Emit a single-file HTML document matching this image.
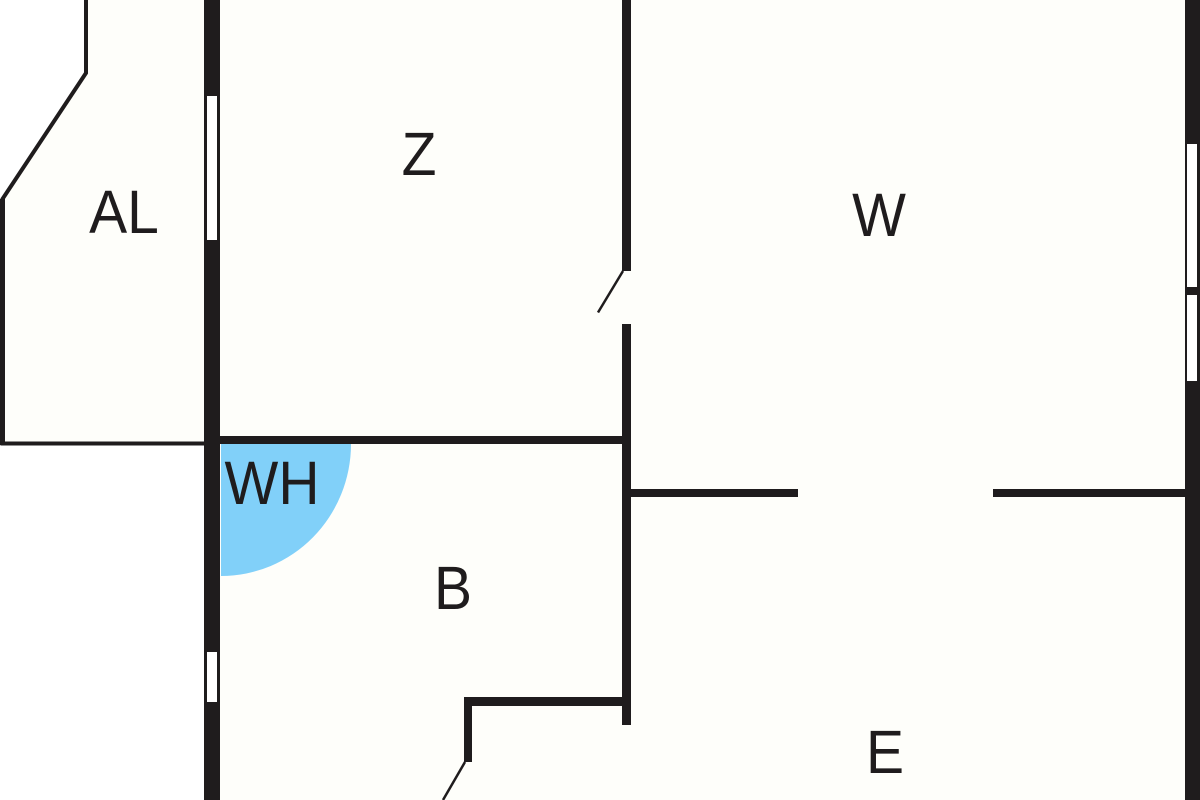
<!DOCTYPE html>
<html>
<head>
<meta charset="utf-8">
<style>
html,body{margin:0;padding:0;background:#fff;width:1200px;height:800px;overflow:hidden}
svg{display:block}
text{font-family:"Liberation Sans",sans-serif;font-size:57px;fill:#1f1c1d;text-anchor:middle}
</style>
</head>
<body>
<svg width="1200" height="800" viewBox="0 0 1200 800" xmlns="http://www.w3.org/2000/svg">
<rect width="1200" height="800" fill="#fff"/>
<polygon points="86,0 86,73 3,199 3,444 204,444 204,800 1200,800 1200,0" fill="#fefefa"/>
<path d="M221,444 H351 A130,132 0 0 1 221,576 Z" fill="#81d0f9"/>
<g fill="#1f1c1d">
<rect x="204" y="0" width="16" height="800"/>
<rect x="220" y="436" width="405" height="8"/>
<rect x="622" y="0" width="9" height="271"/>
<rect x="622" y="324" width="9" height="401"/>
<rect x="631" y="489" width="167" height="8"/>
<rect x="993" y="489" width="193" height="8"/>
<rect x="1185" y="0" width="15" height="800"/>
<rect x="464" y="697" width="158" height="9"/>
<rect x="464" y="697" width="8" height="65"/>
</g>
<path d="M86,0 V73 L2.500,199 V443.500 H204" fill="none" stroke="#1f1c1d" stroke-width="4"/>
<rect x="0" y="199" width="5" height="246" fill="#1f1c1d"/>
<g fill="#fff">
<rect x="207" y="96" width="10" height="144"/>
<rect x="207" y="652" width="10" height="50"/>
<rect x="1187" y="144" width="10" height="143"/>
<rect x="1187" y="295" width="10" height="86"/>
</g>
<path d="M623,271 L598,312.500" stroke="#1f1c1d" stroke-width="2.500" fill="none"/>
<path d="M465,762 L443,800" stroke="#1f1c1d" stroke-width="2.500" fill="none"/>
<text transform="translate(419,175) scale(1,1.07)">Z</text>
<text transform="translate(124,233) scale(1,1.07)">AL</text>
<text transform="translate(879,236) scale(1,1.07)">W</text>
<text transform="translate(272,504) scale(1,1.07)">WH</text>
<text transform="translate(453,609) scale(1,1.07)">B</text>
<text transform="translate(885,773) scale(1,1.07)">E</text>
</svg>
</body>
</html>
